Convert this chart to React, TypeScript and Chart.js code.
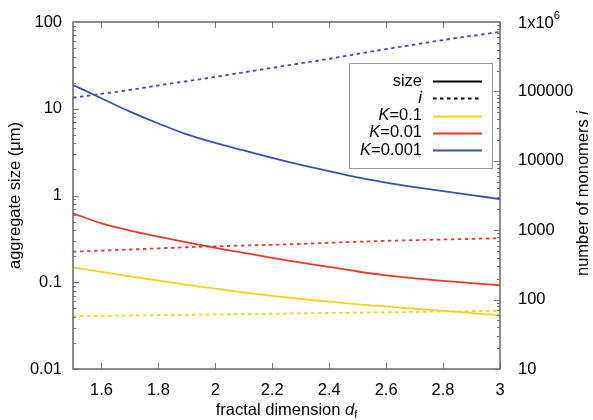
import { useEffect, useRef } from 'react';
import { Chart, registerables } from 'chart.js';

Chart.register(...registerables);

// fractal dimension d_f sampled every 0.1
const fractalDims = [1.5, 1.6, 1.7, 1.8, 1.9, 2.0, 2.1, 2.2, 2.3, 2.4, 2.5, 2.6, 2.7, 2.8, 2.9, 3.0];

// aggregate size (µm), left axis
const sizeK0_1 = [0.1486, 0.1315, 0.117, 0.1047, 0.0935, 0.0843, 0.0762, 0.0695, 0.0641, 0.0598, 0.0557, 0.0526, 0.0495, 0.0468, 0.0441, 0.0416];
const sizeK0_01 = [0.624, 0.476, 0.394, 0.335, 0.288, 0.249, 0.218, 0.191, 0.168, 0.15, 0.133, 0.12, 0.111, 0.1035, 0.0977, 0.0923];
const sizeK0_001 = [18.8, 13.2, 9.25, 6.76, 5.07, 4.03, 3.31, 2.72, 2.26, 1.91, 1.62, 1.41, 1.25, 1.12, 1.01, 0.91];

// number of monomers i, right axis
const monomersK0_1 = [57.4, 58.2, 59.0, 59.7, 60.4, 61.1, 61.8, 62.6, 63.4, 64.1, 64.9, 65.7, 66.5, 67.4, 68.3, 69.2];
const monomersK0_01 = [490, 508, 527, 547, 568, 586, 601, 617, 635, 658, 681, 703, 719, 735, 750, 764];
const monomersK0_001 = [81100, 92300, 105000, 122000, 140000, 162000, 188000, 219000, 254000, 295000, 347000, 407000, 473000, 550000, 631000, 718000];

const kValues = ['0.1', '0.01', '0.001'];
const kColors = ['#f7d11e', '#ea3a30', '#3a4fb3'];
const sizeSeries = [sizeK0_1, sizeK0_01, sizeK0_001];
const monomerSeries = [monomersK0_1, monomersK0_01, monomersK0_001];

const xTicks = [1.6, 1.8, 2.0, 2.2, 2.4, 2.6, 2.8, 3.0];
const sizeTicks = [0.01, 0.1, 1, 10, 100];
const monomerTicks = [10, 100, 1000, 10000, 100000, 1000000];

const xTitle = 'fractal dimension ';
const sizeTitle = 'aggregate size (μm)';
const monomerTitle = 'number of monomers ';

const FONT = '"Liberation Sans", Arial, Helvetica, sans-serif';
const FS = 16.5;
const DASH = [3.5, 3.5];

type Run = { text: string; italic?: boolean; size?: number; dy?: number };

function runFont(r: Run) {
  return `${r.italic ? 'italic ' : ''}${r.size ?? FS}px ${FONT}`;
}

function runsWidth(ctx: CanvasRenderingContext2D, runs: Run[]) {
  let w = 0;
  for (const r of runs) {
    ctx.font = runFont(r);
    w += ctx.measureText(r.text).width;
  }
  return w;
}

function drawRuns(ctx: CanvasRenderingContext2D, runs: Run[], x: number, y: number) {
  let cx = x;
  for (const r of runs) {
    ctx.font = runFont(r);
    ctx.textAlign = 'left';
    ctx.fillText(r.text, cx, y + (r.dy ?? 0));
    cx += ctx.measureText(r.text).width;
  }
}

const frameAndLegend = {
  id: 'frameAndLegend',
  afterDatasetsDraw(chart: any) {
    const { ctx, chartArea } = chart;
    const { left, right, top, bottom } = chartArea;
    const xs = chart.scales.x;
    const ys = chart.scales.y;
    const y2 = chart.scales.y2;
    ctx.save();

    // inward tick marks on all four sides
    ctx.strokeStyle = '#7a7a7a';
    ctx.lineWidth = 1;
    ctx.beginPath();
    for (const v of xTicks) {
      const px = Math.round(xs.getPixelForValue(v)) + 0.5;
      ctx.moveTo(px, bottom);
      ctx.lineTo(px, bottom - 6);
      ctx.moveTo(px, top);
      ctx.lineTo(px, top + 6);
    }
    for (let e = -2; e <= 1; e++) {
      for (let m = 1; m <= 9; m++) {
        const py = Math.round(ys.getPixelForValue(m * Math.pow(10, e))) + 0.5;
        const len = m === 1 ? 6 : 3;
        ctx.moveTo(left, py);
        ctx.lineTo(left + len, py);
      }
    }
    for (let e = 1; e <= 5; e++) {
      for (let m = 1; m <= 9; m++) {
        const py = Math.round(y2.getPixelForValue(m * Math.pow(10, e))) + 0.5;
        const len = m === 1 ? 6 : 3;
        ctx.moveTo(right, py);
        ctx.lineTo(right - len, py);
      }
    }
    ctx.stroke();

    // plot frame
    ctx.strokeStyle = '#666666';
    ctx.lineWidth = 1.5;
    ctx.strokeRect(left, top, right - left, bottom - top);

    // legend box
    const bx = 349, by = 63, bw = 143, bh = 105;
    ctx.fillStyle = '#ffffff';
    ctx.fillRect(bx, by, bw, bh);
    ctx.strokeStyle = '#9a9a9a';
    ctx.lineWidth = 1;
    ctx.strokeRect(bx + 0.5, by + 0.5, bw, bh);

    const entries: { runs: Run[]; color: string; dash: number[] }[] = [
      { runs: [{ text: 'size' }], color: '#000000', dash: [] },
      { runs: [{ text: 'i', italic: true }], color: '#000000', dash: DASH },
      ...kValues.map((k, i) => ({
        runs: [{ text: 'K', italic: true }, { text: '=' + k }],
        color: kColors[i],
        dash: [] as number[],
      })),
    ];
    const textRight = 422;
    const lineX0 = 433, lineX1 = 482;
    ctx.textBaseline = 'middle';
    entries.forEach((en, idx) => {
      const cy = 81 + idx * 17.3;
      ctx.fillStyle = '#000000';
      const w = runsWidth(ctx, en.runs);
      drawRuns(ctx, en.runs, textRight - w, cy);
      ctx.strokeStyle = en.color;
      ctx.lineWidth = 1.8;
      ctx.setLineDash(en.dash);
      ctx.beginPath();
      ctx.moveTo(lineX0, Math.round(cy) + 0.5);
      ctx.lineTo(lineX1, Math.round(cy) + 0.5);
      ctx.stroke();
      ctx.setLineDash([]);
    });

    // 1x10^6 label on the right axis
    ctx.fillStyle = '#000000';
    ctx.textBaseline = 'middle';
    const topPx = y2.getPixelForValue(1000000);
    drawRuns(ctx, [{ text: '1x10' }, { text: '6', size: 11.5, dy: -7 }], right + 18, topPx + 1);

    // axis titles
    ctx.textBaseline = 'alphabetic';
    const xRuns: Run[] = [
      { text: xTitle },
      { text: 'd', italic: true },
      { text: 'f', size: 11, dy: 3 },
    ];
    const xw = runsWidth(ctx, xRuns);
    drawRuns(ctx, xRuns, (left + right) / 2 - xw / 2, 415);

    ctx.textBaseline = 'middle';
    ctx.save();
    ctx.translate(15, (top + bottom) / 2);
    ctx.rotate(-Math.PI / 2);
    const lRuns: Run[] = [{ text: sizeTitle }];
    const lw = runsWidth(ctx, lRuns);
    drawRuns(ctx, lRuns, -lw / 2, 0);
    ctx.restore();

    ctx.save();
    ctx.translate(583, (top + bottom) / 2 - 2);
    ctx.rotate(-Math.PI / 2);
    const rRuns: Run[] = [{ text: monomerTitle }, { text: 'i', italic: true }];
    const rw = runsWidth(ctx, rRuns);
    drawRuns(ctx, rRuns, -rw / 2, 0);
    ctx.restore();

    ctx.restore();
  },
};

export default function App() {
  const canvasRef = useRef<HTMLCanvasElement | null>(null);

  useEffect(() => {
    document.body.style.margin = '0';
    const canvas = canvasRef.current;
    if (!canvas) return;

    const datasets: any[] = [];
    kValues.forEach((k, i) => {
      datasets.push({
        label: 'size K=' + k,
        data: fractalDims.map((d, j) => ({ x: d, y: sizeSeries[i][j] })),
        yAxisID: 'y',
        borderColor: kColors[i],
        borderWidth: 1.8,
        pointRadius: 0,
        cubicInterpolationMode: 'monotone',
        fill: false,
      });
      datasets.push({
        label: 'i K=' + k,
        data: fractalDims.map((d, j) => ({ x: d, y: monomerSeries[i][j] })),
        yAxisID: 'y2',
        borderColor: kColors[i],
        borderWidth: 1.8,
        borderDash: DASH,
        pointRadius: 0,
        cubicInterpolationMode: 'monotone',
        fill: false,
      });
    });

    const tickFont = { family: FONT, size: FS };

    const chart = new Chart(canvas, {
      type: 'line',
      data: { datasets },
      plugins: [frameAndLegend],
      options: {
        responsive: false,
        animation: false,
        devicePixelRatio: 1,
        layout: { padding: { top: 22, left: 0, right: 0, bottom: 0 } },
        plugins: {
          legend: { display: false },
          tooltip: { enabled: false },
        },
        scales: {
          x: {
            type: 'linear',
            min: 1.5,
            max: 3,
            grid: { display: false, drawTicks: false },
            border: { display: false },
            afterBuildTicks: (s: any) => {
              s.ticks = xTicks.map((v) => ({ value: v }));
            },
            afterFit: (s: any) => {
              s.height = 51;
              s.paddingLeft = 0;
              s.paddingRight = 0;
            },
            ticks: {
              font: tickFont,
              color: '#000',
              padding: 12,
              maxRotation: 0,
              autoSkip: false,
              callback: (v: any) => String(Number(Number(v).toFixed(1))),
            },
          },
          y: {
            type: 'logarithmic',
            position: 'left',
            min: 0.01,
            max: 100,
            grid: { display: false, drawTicks: false },
            border: { display: false },
            afterBuildTicks: (s: any) => {
              s.ticks = sizeTicks.map((v) => ({ value: v }));
            },
            afterFit: (s: any) => {
              s.width = 73;
              s.paddingTop = 0;
              s.paddingBottom = 0;
            },
            ticks: {
              font: tickFont,
              color: '#000',
              padding: 11,
              autoSkip: false,
              callback: (v: any) => String(Number(v)),
            },
          },
          y2: {
            type: 'logarithmic',
            position: 'right',
            min: 10,
            max: 1000000,
            grid: { display: false, drawTicks: false },
            border: { display: false },
            afterBuildTicks: (s: any) => {
              s.ticks = monomerTicks.map((v) => ({ value: v }));
            },
            afterFit: (s: any) => {
              s.width = 93;
              s.paddingTop = 0;
              s.paddingBottom = 0;
            },
            ticks: {
              font: tickFont,
              color: '#000',
              padding: 18,
              autoSkip: false,
              callback: (v: any) => (Number(v) >= 1000000 ? '' : String(Number(v))),
            },
          },
        },
      },
    } as any);

    return () => {
      chart.destroy();
    };
  }, []);

  return (
    <div style={{ width: 593, height: 420, background: '#fff' }}>
      <canvas ref={canvasRef} width={593} height={420} />
    </div>
  );
}
